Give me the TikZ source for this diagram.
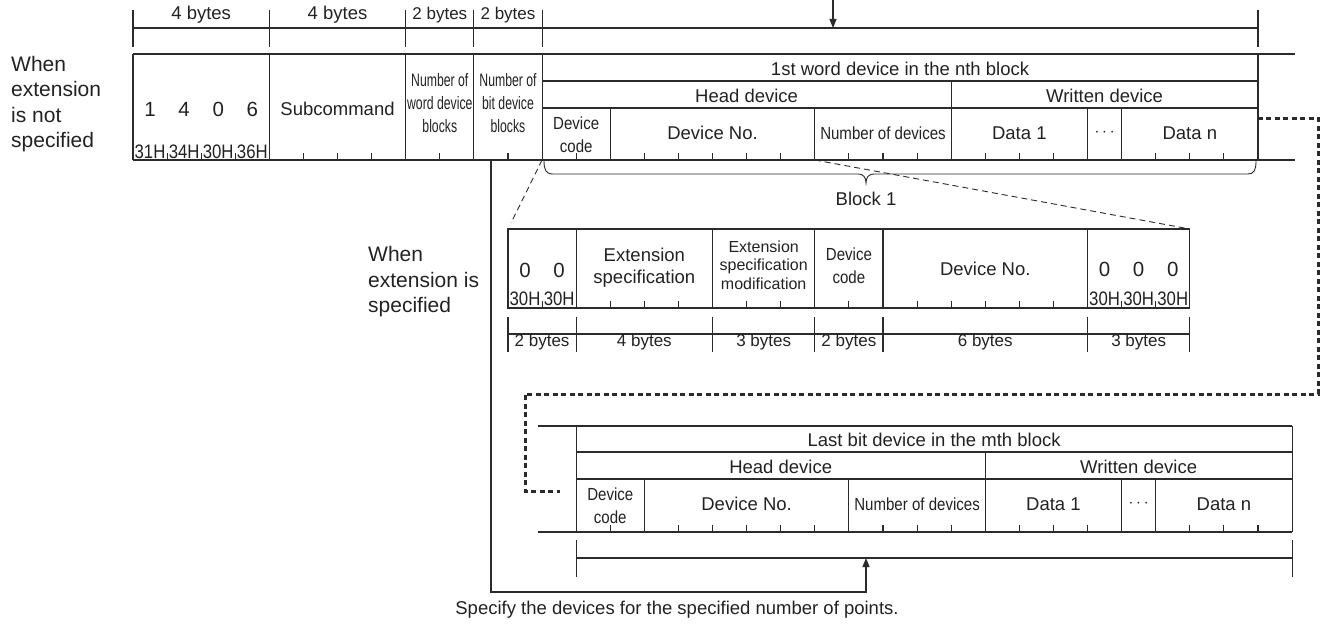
\documentclass[tikz,border=0pt]{standalone}
\usepackage{fontspec}
\setmainfont{Liberation Sans}
\newfontfamily\narA[FakeStretch=0.68]{Liberation Sans}
\newfontfamily\narB[FakeStretch=0.86]{Liberation Sans}
\usetikzlibrary{arrows.meta}
\definecolor{lc}{HTML}{2B2B2B}
\definecolor{tc}{HTML}{222222}
\newcommand\xk[1]{(133+(#1)*34.09)}
\newcommand\fsM{\fontsize{18.5}{22}\selectfont}
\newcommand\fsL{\fontsize{21}{25.5}\selectfont}
\newcommand\fsS{\fontsize{16}{18.5}\selectfont}
\newcommand\fsD{\fontsize{20.5}{24}\selectfont}
\newcommand\fsH{\fontsize{17}{20}\selectfont}
\newcommand\fsNA{\narA\fontsize{18}{22.7}\selectfont}
\newcommand\fsNB{\narB\fontsize{17.5}{23}\selectfont}
\newcommand\fsHex{\narB\fontsize{19.5}{23}\selectfont}
\tikzset{
  ln/.style={line width=1.1pt, draw=lc},
  dsh/.style={line width=0.9pt, draw=lc, dash pattern=on 6pt off 4pt},
  thk/.style={line width=3pt, draw=lc, dash pattern=on 5pt off 3.5pt},
  arr/.style={ln, -{Triangle[length=9pt,width=7pt]}},
  tx/.style={inner sep=0pt, text=tc, font=\fsM, align=center},
  txL/.style={tx, font=\fsL, align=left},
  txS/.style={tx, font=\fsS},
  txD/.style={tx, font=\fsD},
  txH/.style={tx, font=\fsH},
  txA/.style={tx, font=\fsNA},
  txB/.style={tx, font=\fsNB},
  txX/.style={tx, font=\fsHex},
  dots/.style={inner sep=0pt, text=tc, font=\fontsize{18}{18}\selectfont}
}
\begin{document}
\begin{tikzpicture}[x=1pt,y=-1pt]
\useasboundingbox (0,0) rectangle (1321,626);

% ---------- header (byte counts) ----------
\draw[ln] ({\xk{0}},28) -- ({\xk{33}},28);
\foreach \k in {0,4,8,10,12,33} \draw[ln] ({\xk{\k}},10) -- ({\xk{\k}},47);
\node[tx] (hb1) at ({\xk{2}},15) {4 bytes};
\node[tx] (hb2) at ({\xk{6}},15) {4 bytes};
\node[txH] (hb3) at ({\xk{9}},15) {2 bytes};
\node[txH] (hb4) at ({\xk{11}},15) {2 bytes};
\coordinate (topArrS) at (833,0);
\coordinate (topArrE) at (833,28);
\draw[arr] (topArrS) -- (topArrE);

% ---------- main block (extension not specified) ----------
\draw[ln] ({\xk{0}},54) -- (1295,54);
\draw[ln] ({\xk{0}},160) -- (1295,160);
\draw[ln] ({\xk{12}},81) -- ({\xk{33}},81);
\draw[ln] ({\xk{12}},108) -- ({\xk{33}},108);
\foreach \k in {0,4,8,10,12,33} \draw[ln] ({\xk{\k}},54) -- ({\xk{\k}},160);
\draw[ln] ({\xk{24}},81) -- ({\xk{24}},160);
\foreach \k in {14,20,28,29} \draw[ln] ({\xk{\k}},108) -- ({\xk{\k}},160);
\foreach \k in {1,2,3,5,6,7,9,11,13,15,16,17,18,19,21,22,23,25,26,27,30,31,32}
  \draw[ln] ({\xk{\k}},153) -- ({\xk{\k}},160);

\node[txL, anchor=west] (lblNo) at (11,104) {When\\extension\\is not\\specified};
\foreach \k/\t [count=\i] in {0.5/1,1.5/4,2.5/0,3.5/6}
  \node[txD] (dig\i) at ({\xk{\k}},109) {\t};
\foreach \k/\t [count=\i] in {0.5/31H,1.5/34H,2.5/30H,3.5/36H}
  \node[txX] (hex\i) at ({\xk{\k}},152) {\t};
\node[tx] (subc) at ({\xk{6}},109) {Subcommand};
\node[txA] (nwb) at ({\xk{9}},103) {Number of\\word device\\blocks};
\node[txA] (nbb) at ({\xk{11}},103) {Number of\\bit device\\blocks};
\node[tx] (first) at ({\xk{22.5}},69) {1st word device in the nth block};
\node[tx] (head1) at ({\xk{18}},96) {Head device};
\node[tx] (writ1) at ({\xk{28.5}},96) {Written device};
\node[txB] (dc1) at ({\xk{13}},134.5) {Device\\code};
\node[tx] (dn1) at ({\xk{17}},133) {Device No.};
\node[txB] (nd1) at ({\xk{22}},133) {Number of devices};
\node[tx] (da1) at ({\xk{26}},133) {Data 1};
\node[dots] (dt1) at ({\xk{28.5}},133) {$\cdots$};
\node[tx] (dan1) at ({\xk{31}},133) {Data n};

% brace and Block 1
\draw[line width=0.9pt, draw=lc] (544,161) .. controls (544,170) and (546,174) .. (553,174)
  -- (858,174) .. controls (863,174) and (866,177) .. (866,183)
  .. controls (866,177) and (869,174) .. (874,174)
  -- (1248,174) .. controls (1254,174) and (1256,170) .. (1256,161);
\node[tx] (blk1) at (866,199) {Block 1};

% thin dashed zoom lines
\coordinate (zL1) at ({\xk{12}},160);
\coordinate (zL2) at (511,223);
\coordinate (zR1) at ({\xk{20}},160);
\coordinate (zR2) at ({\xk{31}},229);
\draw[dsh] (zL1) -- (zL2);
\draw[dsh] (zR1) -- (zR2);

% ---------- extension specified block ----------
\draw[ln] ({\xk{11}},229) rectangle ({\xk{31}},308);
\foreach \k in {13,17,20,22,28} \draw[ln] ({\xk{\k}},229) -- ({\xk{\k}},308);
\foreach \k in {12,14,15,16,18,19,21,23,24,25,26,27,29,30}
  \draw[ln] ({\xk{\k}},301) -- ({\xk{\k}},308);
\draw[ln] ({\xk{11}},334) -- ({\xk{31}},334);
\foreach \k in {11,13,17,20,22,28,31} \draw[ln] ({\xk{\k}},317) -- ({\xk{\k}},352);

\node[txL, anchor=west] (lblYes) at (368,282) {When\\extension is\\specified};
\node[txD] (ez1) at ({\xk{11.5}},270) {0};
\node[txD] (ez2) at ({\xk{12.5}},270) {0};
\node[txX] (eh1) at ({\xk{11.5}},299) {30H};
\node[txX] (eh2) at ({\xk{12.5}},299) {30H};
\node[tx] (espec) at ({\xk{15}},268) {Extension\\specification};
\node[txS] (emod) at ({\xk{18.5}},265) {Extension\\specification\\modification};
\node[txB] (edc) at ({\xk{21}},266) {Device\\code};
\node[tx] (edn) at ({\xk{25}},269) {Device No.};
\foreach \k [count=\i] in {28.5,29.5,30.5} {
  \node[txD] (fz\i) at ({\xk{\k}},269) {0};
  \node[txX] (fh\i) at ({\xk{\k}},299) {30H};
}
\node[txH] (eb1) at ({\xk{12}},342) {2 bytes};
\node[txH] (eb2) at ({\xk{15}},342) {4 bytes};
\node[txH] (eb3) at ({\xk{18.5}},342) {3 bytes};
\node[txH] (eb4) at ({\xk{21}},342) {2 bytes};
\node[txH] (eb5) at ({\xk{25}},342) {6 bytes};
\node[txH] (eb6) at ({\xk{29.5}},342) {3 bytes};

% ---------- thick dotted continuation ----------
\coordinate (c1) at ({\xk{33}},118);
\coordinate (c2) at (1318,118);
\coordinate (c3) at (1318,394);
\coordinate (c4) at (525,394);
\coordinate (c5) at (525,491);
\coordinate (c6) at (560,491);
\draw[thk] (c1) -- (c2) -- (c3) -- (c4) -- (c5) -- (c6);

% ---------- last bit device block ----------
\draw[ln] (538,426) -- ({\xk{34}},426);
\draw[ln] (538,532) -- ({\xk{34}},532);
\draw[ln] ({\xk{13}},452) -- ({\xk{34}},452);
\draw[ln] ({\xk{13}},479) -- ({\xk{34}},479);
\foreach \k in {13,34} \draw[ln] ({\xk{\k}},426) -- ({\xk{\k}},532);
\draw[ln] ({\xk{25}},452) -- ({\xk{25}},532);
\foreach \k in {15,21,29,30} \draw[ln] ({\xk{\k}},479) -- ({\xk{\k}},532);
\foreach \k in {14,16,17,18,19,20,22,23,24,26,27,28,31,32,33}
  \draw[ln] ({\xk{\k}},525) -- ({\xk{\k}},532);
\draw[ln] ({\xk{13}},558) -- ({\xk{34}},558);
\foreach \k in {13,34} \draw[ln] ({\xk{\k}},540) -- ({\xk{\k}},577);

\node[tx] (last) at ({\xk{23.5}},440) {Last bit device in the mth block};
\node[tx] (head2) at ({\xk{19}},467) {Head device};
\node[tx] (writ2) at ({\xk{29.5}},467) {Written device};
\node[txB] (dc2) at ({\xk{14}},506) {Device\\code};
\node[tx] (dn2) at ({\xk{18}},504) {Device No.};
\node[txB] (nd2) at ({\xk{23}},504) {Number of devices};
\node[tx] (da2) at ({\xk{27}},504) {Data 1};
\node[dots] (dt2) at ({\xk{29.5}},504) {$\cdots$};
\node[tx] (dan2) at ({\xk{32}},504) {Data n};

% ---------- loop arrow ----------
\coordinate (lpA) at (491,160);
\coordinate (lpB) at (491,592);
\coordinate (lpC) at (866,592);
\coordinate (lpD) at (866,558);
\draw[arr] (lpA) -- (lpB) -- (lpC) -- (lpD);
\node[tx] (spec) at (677,610) {Specify the devices for the specified number of points.};
\end{tikzpicture}
\end{document}
